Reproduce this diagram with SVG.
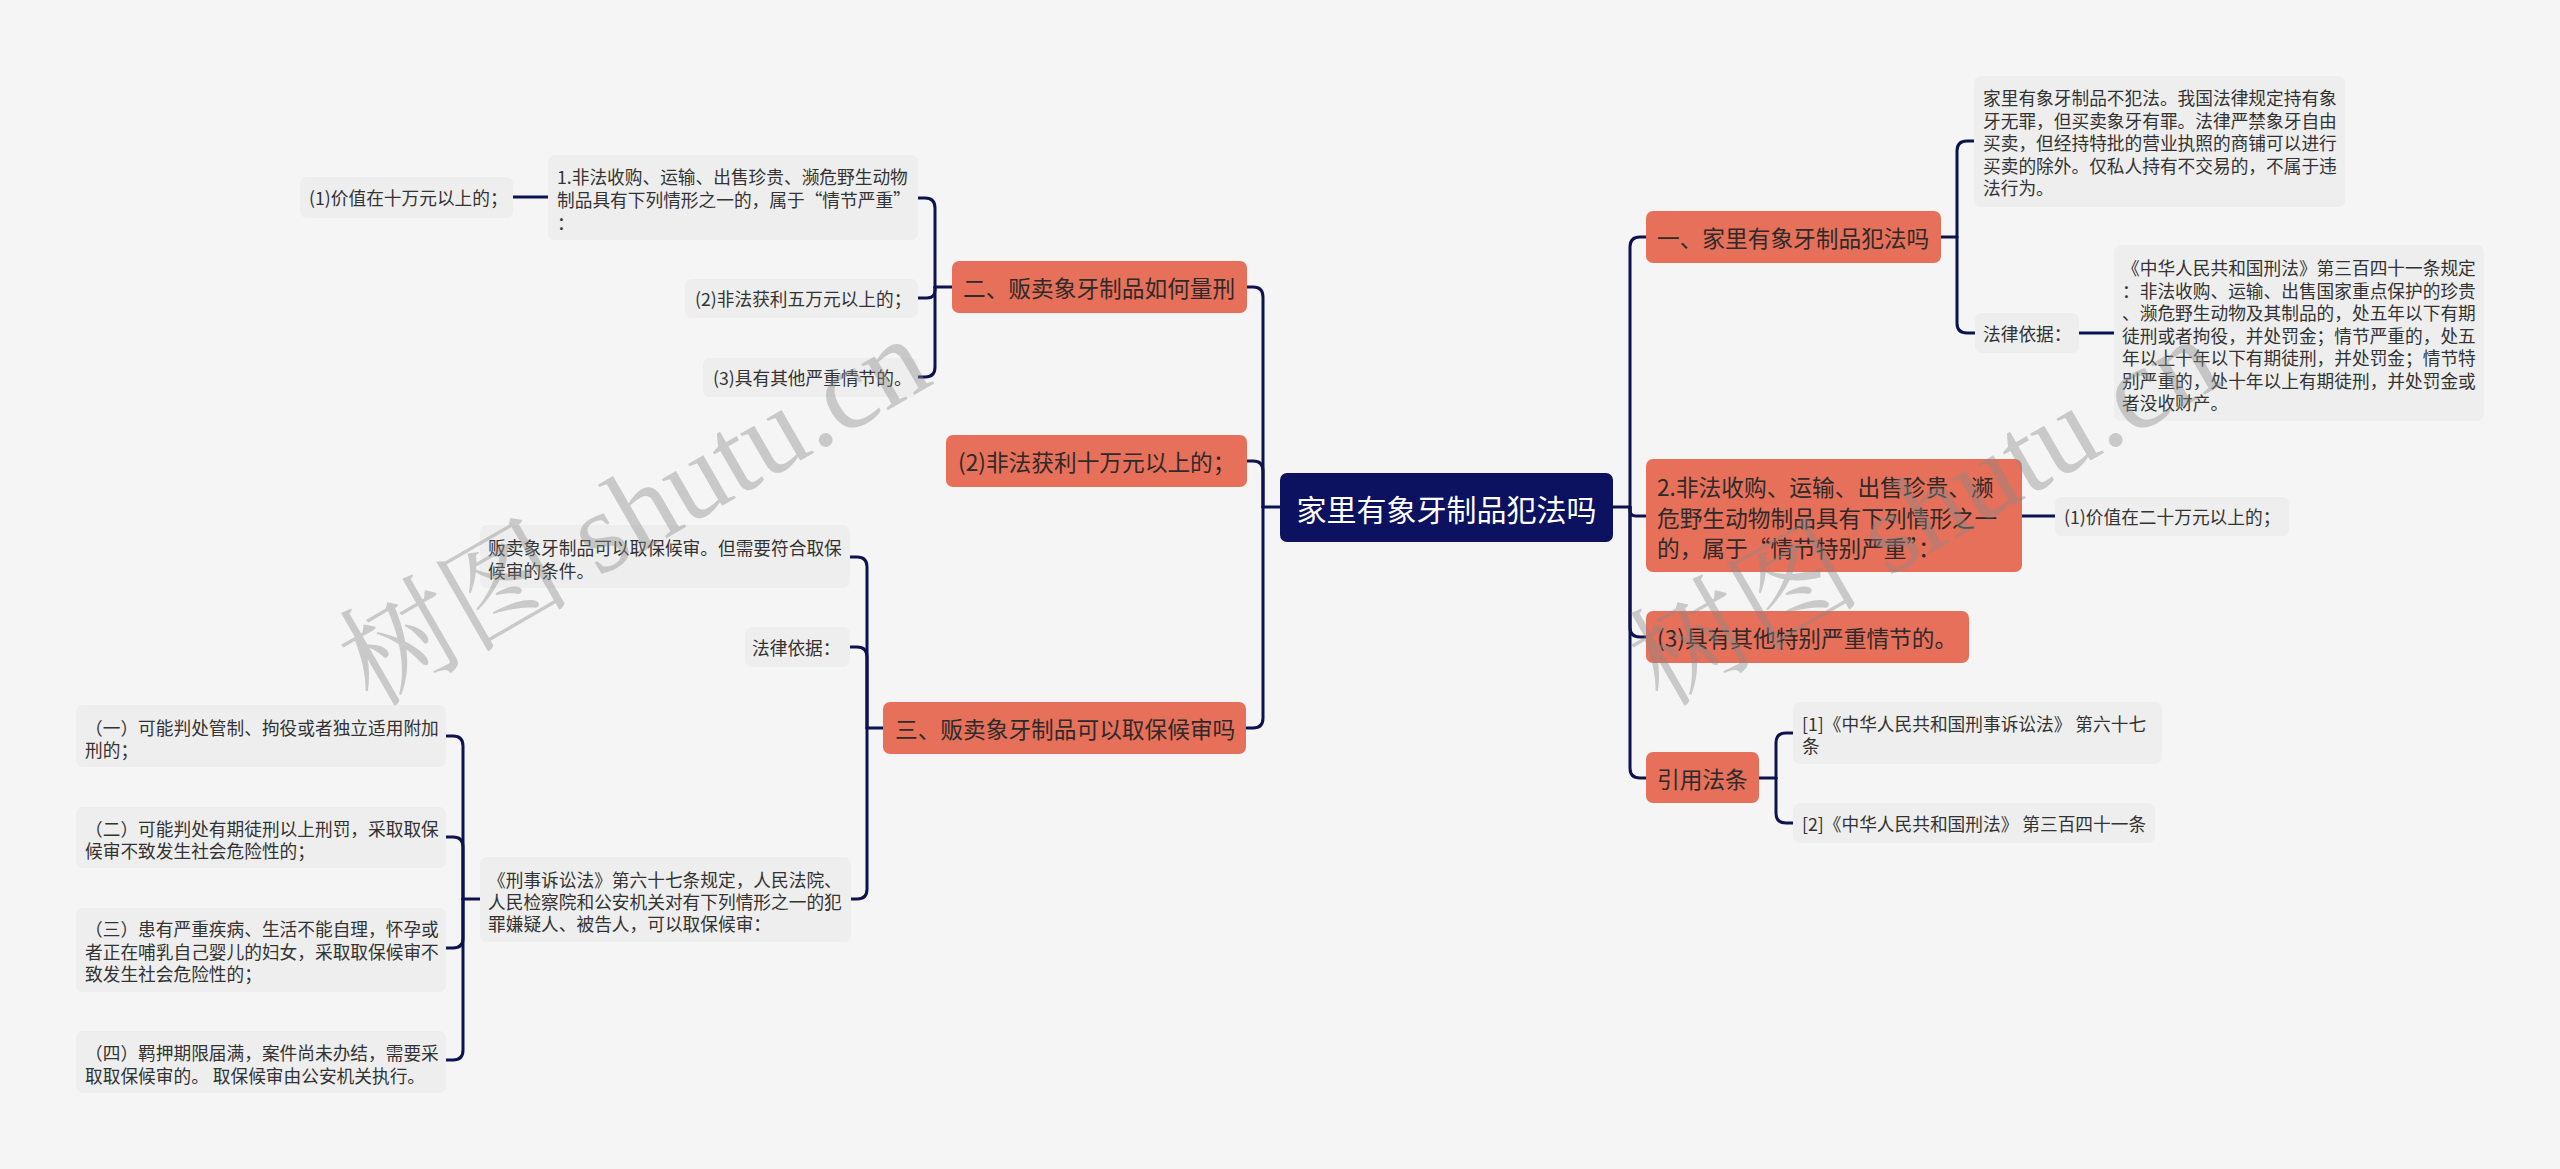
<svg xmlns="http://www.w3.org/2000/svg" width="2560" height="1169" viewBox="0 0 2560 1169">
<style>
.conn path{fill:none;stroke:#0e1350;stroke-width:3;stroke-linecap:round}
.root{fill:#0c1260}
.n1{fill:#e6705a}
.leaf{fill:#eeeeee}
text{font-family:"Noto Sans CJK SC","Microsoft YaHei",sans-serif;dominant-baseline:central}
.tr{fill:#ffffff;font-size:30px}
.t1{fill:#2e2a2a;font-size:22.7px}
.tl{fill:#333333;font-size:17.7px}
.wm{font-family:"Liberation Serif","Noto Serif CJK SC","Noto Sans CJK SC",serif;font-size:116px;fill:#8a8a8a;opacity:0.4;dominant-baseline:alphabetic}
</style>
<rect width="2560" height="1169" fill="#f5f5f5"/>
<g class="conn" id="connectors">
<path d="M1613,507 H1630"/>
<path d="M1630,507 V247 Q1630,237 1640,237 H1646"/>
<path d="M1630,507 V510 Q1630,516 1636,516 H1646"/>
<path d="M1630,507 V627 Q1630,637 1640,637 H1646"/>
<path d="M1630,507 V768 Q1630,778 1640,778 H1646"/>
<path d="M1941,237 H1957"/>
<path d="M1957,237 V151 Q1957,141 1967,141 H1974"/>
<path d="M1957,237 V323 Q1957,333 1967,333 H1975"/>
<path d="M2079,333 H2114"/>
<path d="M2022,516 H2055"/>
<path d="M1759,778 H1776"/>
<path d="M1776,778 V743 Q1776,733 1786,733 H1793"/>
<path d="M1776,778 V813 Q1776,823 1786,823 H1793"/>
<path d="M1280,507 H1263"/>
<path d="M1263,507 V297 Q1263,287 1253,287 H1247"/>
<path d="M1263,507 V471 Q1263,461 1253,461 H1247"/>
<path d="M1263,507 V718 Q1263,728 1253,728 H1246"/>
<path d="M952,287 H935"/>
<path d="M935,287 V208 Q935,198 925,198 H918"/>
<path d="M935,287 V290 Q935,298 927,298 H918"/>
<path d="M935,287 V367 Q935,377 925,377 H918"/>
<path d="M548,197 H513"/>
<path d="M883,728 H867"/>
<path d="M867,728 V567 Q867,557 857,557 H850"/>
<path d="M867,728 V657 Q867,647 857,647 H850"/>
<path d="M867,728 V889 Q867,899 857,899 H851"/>
<path d="M480,899 H463"/>
<path d="M463,899 V746 Q463,736 453,736 H446"/>
<path d="M463,899 V847 Q463,837 453,837 H446"/>
<path d="M463,899 V938 Q463,948 453,948 H446"/>
<path d="M463,899 V1050 Q463,1060 453,1060 H446"/>
</g>
<g id="root"><rect class="root" x="1280" y="473" width="333" height="69" rx="7"/><text class="tr" x="1446.5" y="507.5" text-anchor="middle">家里有象牙制品犯法吗</text></g>
<g id="n-r1"><rect class="n1" x="1646" y="211" width="295" height="52" rx="7"/><text class="t1" x="1657" y="237">一、家里有象牙制品犯法吗</text></g>
<g id="n-r1a"><rect class="leaf" x="1974" y="76" width="371" height="131" rx="7"/><text class="tl"><tspan x="1983" y="97">家里有象牙制品不犯法。我国法律规定持有象</tspan><tspan x="1983" y="119.5">牙无罪，但买卖象牙有罪。法律严禁象牙自由</tspan><tspan x="1983" y="142">买卖，但经持特批的营业执照的商铺可以进行</tspan><tspan x="1983" y="164.5">买卖的除外。仅私人持有不交易的，不属于违</tspan><tspan x="1983" y="187">法行为。</tspan></text></g>
<g id="n-r1b"><rect class="leaf" x="1975" y="313" width="104" height="40" rx="7"/><text class="tl" x="1983" y="333">法律依据：</text></g>
<g id="n-r1c"><rect class="leaf" x="2114" y="245" width="370" height="176" rx="7"/><text class="tl"><tspan x="2122" y="267">《中华人民共和国刑法》第三百四十一条规定</tspan><tspan x="2122" y="289.5">：非法收购、运输、出售国家重点保护的珍贵</tspan><tspan x="2122" y="312">、濒危野生动物及其制品的，处五年以下有期</tspan><tspan x="2122" y="334.5">徒刑或者拘役，并处罚金；情节严重的，处五</tspan><tspan x="2122" y="357">年以上十年以下有期徒刑，并处罚金；情节特</tspan><tspan x="2122" y="379.5">别严重的，处十年以上有期徒刑，并处罚金或</tspan><tspan x="2122" y="402">者没收财产。</tspan></text></g>
<g id="n-r2"><rect class="n1" x="1646" y="459" width="376" height="113" rx="7"/><text class="t1"><tspan x="1657" y="486">2.非法收购、运输、出售珍贵、濒</tspan><tspan x="1657" y="516.5">危野生动物制品具有下列情形之一</tspan><tspan x="1657" y="547">的，属于“情节特别严重”：</tspan></text></g>
<g id="n-r2a"><rect class="leaf" x="2055" y="497" width="234" height="39" rx="7"/><text class="tl" x="2064" y="516">(1)价值在二十万元以上的；</text></g>
<g id="n-r3"><rect class="n1" x="1646" y="611" width="323" height="52" rx="7"/><text class="t1" x="1657" y="637">(3)具有其他特别严重情节的。</text></g>
<g id="n-r4"><rect class="n1" x="1646" y="752" width="113" height="51" rx="7"/><text class="t1" x="1657" y="778">引用法条</text></g>
<g id="n-r4a"><rect class="leaf" x="1793" y="702" width="369" height="62" rx="7"/><text class="tl"><tspan x="1802" y="723">[1]《中华人民共和国刑事诉讼法》 第六十七</tspan><tspan x="1802" y="745">条</tspan></text></g>
<g id="n-r4b"><rect class="leaf" x="1793" y="803" width="362" height="40" rx="7"/><text class="tl" x="1802" y="823">[2]《中华人民共和国刑法》 第三百四十一条</text></g>
<g id="n-l1"><rect class="n1" x="952" y="261" width="295" height="52" rx="7"/><text class="t1" x="963" y="287">二、贩卖象牙制品如何量刑</text></g>
<g id="n-l1a"><rect class="leaf" x="548" y="155" width="370" height="85" rx="7"/><text class="tl"><tspan x="557" y="176">1.非法收购、运输、出售珍贵、濒危野生动物</tspan><tspan x="557" y="199">制品具有下列情形之一的，属于“情节严重”</tspan><tspan x="557" y="222">：</tspan></text></g>
<g id="n-l1a1"><rect class="leaf" x="300" y="177" width="213" height="41" rx="7"/><text class="tl" x="309" y="197">(1)价值在十万元以上的；</text></g>
<g id="n-l1b"><rect class="leaf" x="685" y="279" width="233" height="39" rx="7"/><text class="tl" x="695" y="298">(2)非法获利五万元以上的；</text></g>
<g id="n-l1c"><rect class="leaf" x="703" y="358" width="215" height="39" rx="7"/><text class="tl" x="713" y="377">(3)具有其他严重情节的。</text></g>
<g id="n-l2"><rect class="n1" x="946" y="435" width="301" height="52" rx="7"/><text class="t1" x="958" y="461">(2)非法获利十万元以上的；</text></g>
<g id="n-l3"><rect class="n1" x="883" y="702" width="363" height="52" rx="7"/><text class="t1" x="895" y="728">三、贩卖象牙制品可以取保候审吗</text></g>
<g id="n-l3a"><rect class="leaf" x="480" y="525" width="370" height="63" rx="7"/><text class="tl"><tspan x="488" y="547">贩卖象牙制品可以取保候审。但需要符合取保</tspan><tspan x="488" y="569.5">候审的条件。</tspan></text></g>
<g id="n-l3b"><rect class="leaf" x="745" y="627" width="105" height="40" rx="7"/><text class="tl" x="752" y="647">法律依据：</text></g>
<g id="n-l3c"><rect class="leaf" x="480" y="857" width="371" height="85" rx="7"/><text class="tl"><tspan x="488" y="879">《刑事诉讼法》第六十七条规定，人民法院、</tspan><tspan x="488" y="901">人民检察院和公安机关对有下列情形之一的犯</tspan><tspan x="488" y="923">罪嫌疑人、被告人，可以取保候审：</tspan></text></g>
<g id="n-l3c1"><rect class="leaf" x="76" y="705" width="370" height="62" rx="7"/><text class="tl"><tspan x="85" y="727">（一）可能判处管制、拘役或者独立适用附加</tspan><tspan x="85" y="749">刑的；</tspan></text></g>
<g id="n-l3c2"><rect class="leaf" x="76" y="807" width="370" height="61" rx="7"/><text class="tl"><tspan x="85" y="828">（二）可能判处有期徒刑以上刑罚，采取取保</tspan><tspan x="85" y="850">候审不致发生社会危险性的；</tspan></text></g>
<g id="n-l3c3"><rect class="leaf" x="76" y="908" width="370" height="84" rx="7"/><text class="tl"><tspan x="85" y="928">（三）患有严重疾病、生活不能自理，怀孕或</tspan><tspan x="85" y="950.5">者正在哺乳自己婴儿的妇女，采取取保候审不</tspan><tspan x="85" y="973">致发生社会危险性的；</tspan></text></g>
<g id="n-l3c4"><rect class="leaf" x="76" y="1031" width="370" height="62" rx="7"/><text class="tl"><tspan x="85" y="1052">（四）羁押期限届满，案件尚未办结，需要采</tspan><tspan x="85" y="1075">取取保候审的。 取保候审由公安机关执行。</tspan></text></g>
<g id="watermark">
<text class="wm" transform="translate(372,708) rotate(-30)">树图 shutu.cn</text>
<text class="wm" transform="translate(1662,708) rotate(-30)">树图 shutu.cn</text>
</g>
</svg>
